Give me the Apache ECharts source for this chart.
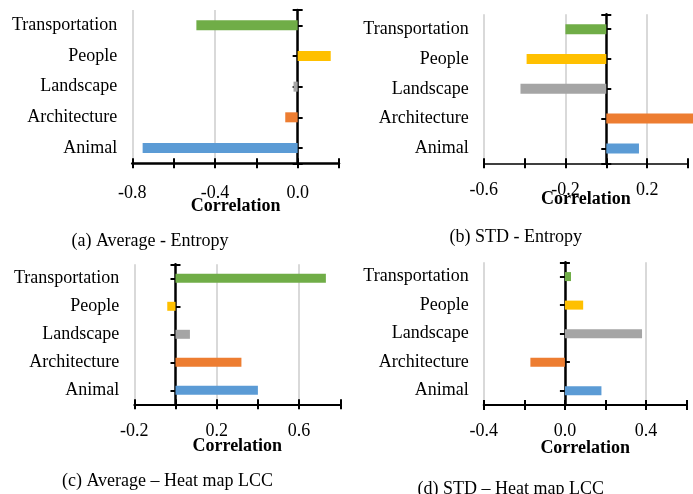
<!DOCTYPE html>
<html><head><meta charset="utf-8">
<script src="https://cdn.jsdelivr.net/npm/echarts@6/dist/echarts.min.js"></script>
<style>html,body{margin:0;padding:0;background:#fff}#c{width:693px;height:494px}</style>
</head><body><div id="c"></div>
<script>
const categories = ['Animal', 'Architecture', 'Landscape', 'People', 'Transportation'];
const avgEntropy = [-0.75, -0.06, -0.02, 0.16, -0.49];
const stdEntropy = [0.16, 0.43, -0.42, -0.39, -0.20];
const avgHeatLCC = [0.40, 0.32, 0.07, -0.04, 0.73];
const stdHeatLCC = [0.18, -0.17, 0.38, 0.09, 0.03];
const captions = ['(a) Average - Entropy', '(b) STD - Entropy', '(c) Average \u2013 Heat map LCC', '(d) STD \u2013 Heat map LCC'];
const axisTitle = 'Correlation';
const xRanges = [[-0.8, 0.2], [-0.6, 0.4], [-0.2, 0.8], [-0.4, 0.6]];
const labelStep = 0.4;
const tickStep = 0.2;

const palette = ['#5B9BD5', '#ED7D31', '#A5A5A5', '#FFC000', '#70AD47'];
const seriesData = [avgEntropy, stdEntropy, avgHeatLCC, stdHeatLCC];
const FONT = 'Liberation Serif';
const layout = [
  {left: 132.3, top: 10, width: 206.7, height: 153.3, barWidth: 10, labelMargin: 21, nameGap: 34.5, cap: [150, 242], xw: 2.5},
  {left: 483.7, top: 14.3, width: 204.3, height: 149, barWidth: 10, labelMargin: 18, nameGap: 27, cap: [515.8, 238.7], xw: 1.5},
  {left: 134.3, top: 264.3, width: 206, height: 140, barWidth: 9, labelMargin: 18, nameGap: 33, cap: [167.5, 482], xw: 2},
  {left: 483.7, top: 262.3, width: 203, height: 142.7, barWidth: 9, labelMargin: 17, nameGap: 34.5, cap: [510.8, 490.3], xw: 2}
];

const grid = [], xAxis = [], yAxis = [], series = [], title = [];
layout.forEach((L, g) => {
  const [mn, mx] = xRanges[g];
  grid.push({left: L.left, top: L.top, width: L.width, height: L.height, containLabel: false});
  xAxis.push({
    gridIndex: g, type: 'value', position: 'bottom', min: mn, max: mx, interval: labelStep,
    axisLine: {show: true, onZero: false, lineStyle: {color: '#000', width: L.xw}},
    axisTick: {show: false},
    splitLine: {show: true, showMaxLine: false, lineStyle: {color: '#D9D9D9', width: 2}},
    axisLabel: {
      margin: L.labelMargin, color: '#000', fontFamily: FONT, fontSize: 18,
      formatter: v => {
        const k = (v - mn) / labelStep;
        return Math.abs(k - Math.round(k)) < 1e-6 ? (Math.abs(v) < 1e-9 ? 0 : v).toFixed(1) : '';
      }
    },
    name: axisTitle, nameLocation: 'middle', nameGap: L.nameGap, nameMoveOverlap: false,
    nameTextStyle: {fontFamily: FONT, fontWeight: 'bold', fontSize: 18, color: '#000'}
  });
  [false, true].forEach(inside => {
    xAxis.push({
      gridIndex: g, type: 'value', position: 'bottom', min: mn, max: mx, interval: tickStep,
      axisLine: {show: false, onZero: false},
      axisTick: {show: true, inside: inside, length: 5, lineStyle: {color: '#000', width: 2}},
      axisLabel: {show: false}, splitLine: {show: false}
    });
  });
  const zx = g * 3;
  yAxis.push({
    gridIndex: g, type: 'category', data: categories, position: 'left',
    axisLine: {show: false, onZero: false}, axisTick: {show: false},
    axisLabel: {interval: 0, margin: 15, color: '#000', fontFamily: FONT, fontSize: 18, padding: [2.5, 0, 0, 0]},
    splitLine: {show: false}
  });
  [false, true].forEach(inside => {
    yAxis.push({
      gridIndex: g, type: 'category', data: categories, position: 'left',
      axisLine: {show: !inside, onZero: true, onZeroAxisIndex: zx, lineStyle: {color: '#000', width: 2.5}},
      axisTick: {show: true, inside: inside, alignWithLabel: true, interval: 0, length: 5, lineStyle: {color: '#000', width: 2}},
      axisLabel: {show: false}, splitLine: {show: false}
    });
  });
  [false, true].forEach(inside => {
    yAxis.push({
      gridIndex: g, type: 'category', data: categories, position: 'left',
      axisLine: {show: false, onZero: true, onZeroAxisIndex: zx},
      axisTick: {show: true, inside: inside, alignWithLabel: false, interval: 5, length: 5, lineStyle: {color: '#000', width: 2}},
      axisLabel: {show: false}, splitLine: {show: false}
    });
  });
  series.push({
    type: 'bar', xAxisIndex: zx, yAxisIndex: g * 5, data: seriesData[g],
    barWidth: L.barWidth, colorBy: 'data', clip: false, silent: true, z: 1
  });
  title.push({
    text: captions[g], left: L.cap[0], top: L.cap[1] - 10, textAlign: 'center', padding: 0,
    textStyle: {fontFamily: FONT, fontWeight: 'normal', fontSize: 18, color: '#000'}
  });
});

const chart = echarts.init(document.getElementById('c'), null, {renderer: 'canvas'});
chart.setOption({
  animation: false, backgroundColor: '#fff', color: palette,
  title, grid, xAxis, yAxis, series
});
</script>
</body></html>
